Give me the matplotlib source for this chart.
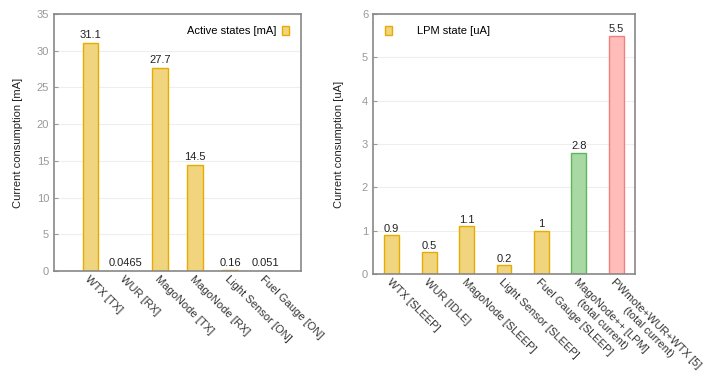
import matplotlib.pyplot as plt
import numpy as np

plt.rcParams['font.family'] = ['Liberation Sans', 'DejaVu Sans']

# active states (mA)
active_labels = ['WTX [TX]', 'WUR [RX]', 'MagoNode [TX]', 'MagoNode [RX]',
                 'Light Sensor [ON]', 'Fuel Gauge [ON]']
active_values = [31.1, 0.0465, 27.7, 14.5, 0.16, 0.051]
active_text = ['31.1', '0.0465', '27.7', '14.5', '0.16', '0.051']

# LPM state (uA)
lpm_labels = ['WTX [SLEEP]', 'WUR [IDLE]', 'MagoNode [SLEEP]', 'Light Sensor [SLEEP]',
              'Fuel Gauge [SLEEP]', 'MagoNode++ [LPM]\n(total current)',
              'PWmote+WUR+WTX [5]\n(total current)']
lpm_values = [0.9, 0.5, 1.1, 0.2, 1.0, 2.8, 5.5]
lpm_text = ['0.9', '0.5', '1.1', '0.2', '1', '2.8', '5.5']

YEL_F, YEL_E = '#f0d47e', '#e8ac00'
GRN_F, GRN_E = '#a8d8a4', '#5cb85c'
RED_F, RED_E = '#ffbcb8', '#f08080'
lpm_fill = [YEL_F] * 5 + [GRN_F, RED_F]
lpm_edge = [YEL_E] * 5 + [GRN_E, RED_E]

FS = 8
fig = plt.figure(figsize=(7.13, 3.76), dpi=100)


def style(ax, ylabel):
    for s in ax.spines.values():
        s.set_color('#888888')
        s.set_linewidth(1.2)
    ax.tick_params(axis='y', colors='#999999', labelsize=FS, length=3, direction='in',
                   labelcolor='#999999')
    ax.tick_params(axis='x', length=0, labelsize=FS, labelcolor='#333333', pad=2)
    ax.yaxis.grid(True, color='#eeeeee', linewidth=0.8)
    ax.set_axisbelow(True)
    ax.set_ylabel(ylabel, fontsize=FS, color='#222222')


# left chart
ax1 = fig.add_axes([54 / 713, 1 - 271 / 376, 247 / 713, 257 / 376])
x1 = np.arange(len(active_values))
ax1.bar(x1, active_values, width=0.43, color=YEL_F, edgecolor=YEL_E, linewidth=1,
        label='Active states [mA]')
for i in range(len(x1)):
    ax1.text(x1[i], active_values[i] + 0.3, active_text[i], ha='center', va='bottom',
             fontsize=FS, color='#222222')
ax1.set_xlim(-1.03, 6.03)
ax1.set_ylim(0, 35)
ax1.set_yticks(range(0, 36, 5))
ax1.set_xticks(x1)
ax1.set_xticklabels(active_labels, rotation=-45, ha='left', va='top', rotation_mode='anchor')
style(ax1, 'Current consumption [mA]')
ax1.yaxis.set_label_coords(-0.125, 0.5)
ax1.legend(loc='upper right', frameon=False, fontsize=FS, markerfirst=False,
           handlelength=0.6, handleheight=0.8, borderaxespad=0.7, handletextpad=0.5)

# right chart
ax2 = fig.add_axes([373 / 713, 1 - 274 / 376, 262 / 713, 260 / 376])
x2 = np.arange(len(lpm_values))
bars = ax2.bar(x2, lpm_values, width=0.4, color=lpm_fill, edgecolor=lpm_edge, linewidth=1)
bars[0].set_label('LPM state [uA]')
for i in range(len(x2)):
    ax2.text(x2[i], lpm_values[i] + 0.03, lpm_text[i], ha='center', va='bottom',
             fontsize=FS, color='#222222')
ax2.set_xlim(-0.5, 6.5)
ax2.set_ylim(0, 6)
ax2.set_yticks(range(0, 7))
ax2.set_xticks(x2)
ax2.set_xticklabels(lpm_labels, rotation=-45, ha='left', va='top', rotation_mode='anchor',
                    multialignment='center')
style(ax2, 'Current consumption [uA]')
ax2.yaxis.set_label_coords(-0.11, 0.5)
ax2.legend(loc='upper left', frameon=False, fontsize=FS,
           handlelength=0.6, handleheight=0.8, borderaxespad=0.7, handletextpad=2.3)

fig.savefig('out.png', dpi=100)
